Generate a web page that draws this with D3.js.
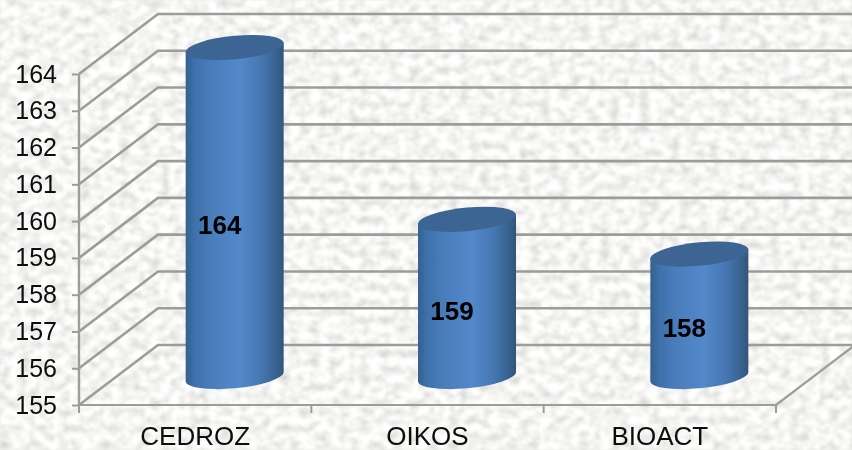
<!DOCTYPE html>
<html><head><meta charset="utf-8">
<script src="https://cdn.jsdelivr.net/npm/d3@7"></script>
<style>html,body{margin:0;padding:0;background:#e9e9e5;overflow:hidden}svg{display:block}text{font-family:"Liberation Sans",Arial,sans-serif}</style>
</head><body><div id="c"></div>
<script>
const categories = ["CEDROZ","OIKOS","BIOACT"];
const values = [164, 159.3, 158.35];
const dataLabels = ["164","159","158"];
const yTicks = [155,156,157,158,159,160,161,162,163,164];

const W=852,H=450;
const depthX=79, depthY=60;
const x=d3.scaleBand().domain(categories).range([79,776]);
const y=d3.scaleLinear().domain([155,164]).range([405,74]);
const svg=d3.select("#c").append("svg").attr("width",W).attr("height",H);
const defs=svg.append("defs");

// paper texture
const f=defs.append("filter").attr("id","paper").attr("x",0).attr("y",0).attr("width","100%").attr("height","100%");
f.append("feTurbulence").attr("type","fractalNoise").attr("baseFrequency","0.1 0.12").attr("numOctaves",3).attr("seed",11);
f.append("feColorMatrix").attr("type","matrix").attr("values",
 "0.62 0 0 0 0.6  0.62 0 0 0 0.6  0.62 0 0 0 0.585  0 0 0 0 1");
f.append("feGaussianBlur").attr("stdDeviation",0.9);
svg.append("rect").attr("width",W).attr("height",H).attr("filter","url(#paper)");

const soft=defs.append("filter").attr("id","soft").attr("x",0).attr("y",0).attr("width",W).attr("height",H).attr("filterUnits","userSpaceOnUse");
soft.append("feGaussianBlur").attr("stdDeviation",0.45);
const chart=svg.append("g").attr("filter","url(#soft)");

// cylinder gradient
const g=defs.append("linearGradient").attr("id","cyl").attr("x1",0).attr("x2",1).attr("y1",0).attr("y2",0);
[[0,"#33618f"],[0.1,"#3f72ac"],[0.3,"#4b7fbe"],[0.55,"#5388ca"],[0.75,"#4779b5"],[0.9,"#3a6696"],[1,"#305678"]]
 .forEach(([o,c])=>g.append("stop").attr("offset",o).attr("stop-color",c));

const gridColor="#9c9c9a";
const grid=chart.append("g").attr("fill","none").attr("stroke",gridColor);
// back wall and side wall lines
grid.selectAll("path.g").data(yTicks).join("path").attr("class","g")
  .attr("stroke-width",2.6)
  .attr("d",d=>`M${x.range()[0]},${y(d)}L${x.range()[0]+depthX},${y(d)-depthY}H${W+5}`);
// floor
const floor=chart.append("g").attr("fill","none").attr("stroke",gridColor);
floor.append("path").attr("stroke-width",2.2).attr("d",`M${x.range()[1]},${y(155)}L${x.range()[1]+depthX},${y(155)-depthY}`);

// y axis
const yAxis=chart.append("g").attr("transform",`translate(${x.range()[0]},0)`)
  .call(d3.axisLeft(y).tickValues(yTicks).tickSize(7).tickPadding(15).tickFormat(d3.format("d")));
yAxis.selectAll("text").attr("font-size",25).attr("fill","#0a0a0a").attr("font-family",'"Liberation Sans",Arial,sans-serif');
yAxis.selectAll("line").attr("stroke",gridColor).attr("stroke-width",2);
yAxis.select(".domain").attr("stroke",gridColor).attr("stroke-width",2.4).attr("d",`M0,${y(164)}V${y(155)}`);

// x axis
const xAxis=chart.append("g").attr("transform",`translate(0,${y(155)})`)
  .call(d3.axisBottom(x).tickSize(0).tickPadding(21.5));
xAxis.select(".domain").attr("stroke",gridColor).attr("stroke-width",2.2).attr("d",`M${x.range()[0]},0H${x.range()[1]}`);
xAxis.selectAll("text").attr("font-size",26).attr("fill","#0a0a0a").attr("font-family",'"Liberation Sans",Arial,sans-serif');
chart.append("g").attr("stroke",gridColor).attr("stroke-width",2).selectAll("line")
  .data(categories).join("line")
  .attr("x1",d=>x(d)+x.step()).attr("x2",d=>x(d)+x.step())
  .attr("y1",y(155)).attr("y2",y(155)+8);
chart.append("line").attr("stroke",gridColor).attr("stroke-width",2)
  .attr("x1",x.range()[0]).attr("x2",x.range()[0]).attr("y1",y(155)).attr("y2",y(155)+8);

// cylinders: sheared ellipses, so the sides stay vertical
const halfW=49, shear=4.5/49, ry=11.8, baseY=y(155)-28.5, perUnit=36.55;
const hY=v=>baseY-(v-155)*perUnit;
const bars=chart.append("g").selectAll("g").data(categories.map((c,i)=>({c,v:values[i],l:dataLabels[i]}))).join("g")
  .attr("transform",d=>`translate(${x(d.c)+x.bandwidth()/2+depthX/2},0)`);
const sheared=bars.append("g").attr("transform",`matrix(1,${-shear},0,1,0,0)`);
sheared.append("path").attr("fill","url(#cyl)")
  .attr("d",d=>`M${-halfW},${hY(d.v)}V${baseY}A${halfW},${ry} 0 0 0 ${halfW},${baseY}V${hY(d.v)}Z`);
sheared.append("ellipse").attr("rx",halfW).attr("ry",ry).attr("fill","#3d6594")
  .attr("cy",d=>hY(d.v));
bars.append("text").attr("x",-15).attr("text-anchor","middle").attr("dy","0.35em")
  .attr("y",d=>(hY(d.v)+baseY)/2+12.5).attr("font-size",26).attr("font-weight","bold").attr("fill","#000")
  .text(d=>d.l);
</script></body></html>
